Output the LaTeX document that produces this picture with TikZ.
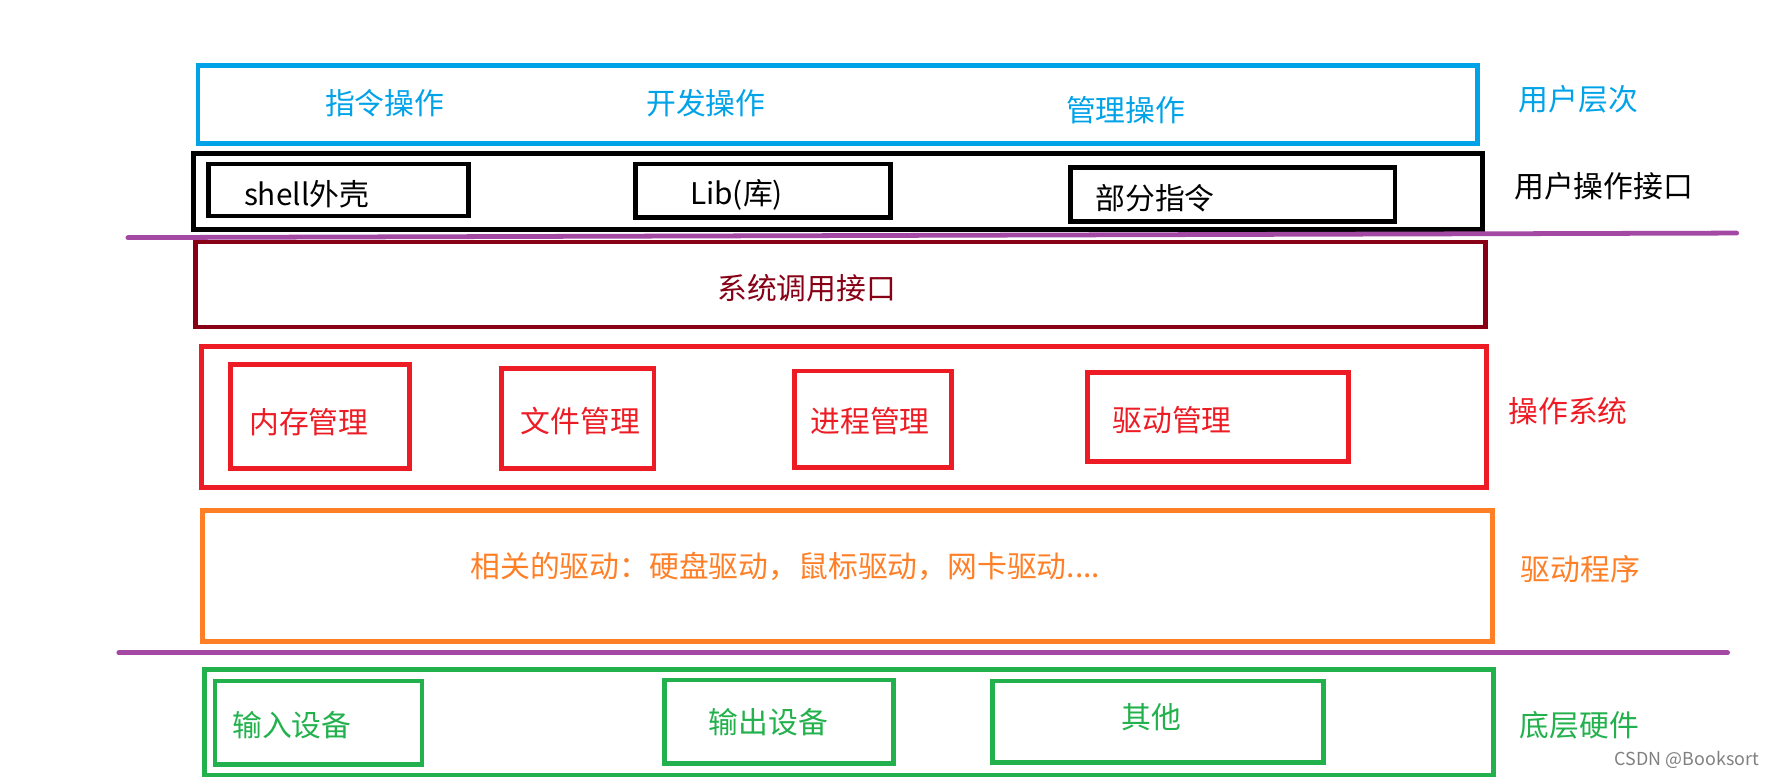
\documentclass[tikz,border=0pt]{standalone}
\usepackage{fontspec}
\setmainfont{Noto Sans CJK SC}
\usetikzlibrary{positioning}
\definecolor{userblue}{HTML}{00A2E8}
\definecolor{sysred}{HTML}{880015}
\definecolor{osred}{HTML}{ED1C24}
\definecolor{drvorange}{HTML}{FF7F27}
\definecolor{hwgreen}{HTML}{22B14C}
\definecolor{seppurple}{HTML}{A349A4}

\begin{document}
\begin{tikzpicture}[x=0.02cm, y=-0.02cm,
    box/.style={draw=#1, line width=2.4pt},
    lbl/.style={inner sep=0pt, font=\fontsize{15}{18}\selectfont},
    side/.style={lbl, anchor=west}]

\useasboundingbox (0,0) rectangle (1568,689);

% User layer
\draw[box=userblue] (175,58) rectangle (1306,127);
\node[lbl, userblue] (cmdop) at (340,91) {指令操作};
\node[lbl, userblue] (devop) at (624,91) {开发操作};
\node[lbl, userblue] (mgmtop) at (995,97) {管理操作};
\node[side, userblue] (userlev) at (1342,88) {用户层次};

% User operation interface
\draw[box=black] (171,136) rectangle (1310,203);
\draw[box=black] (184,145) rectangle (414,191);
\draw[box=black] (562,145) rectangle (787,192);
\draw[box=black] (946,148) rectangle (1233,196);
\node[lbl] (shell) at (271,172) {shell外壳};
\node[lbl] (lib) at (651,172) {Lib(库)};
\node[lbl] (partcmd) at (1021,175) {部分指令};
\node[side] (userif) at (1338,165) {用户操作接口};

\draw[seppurple, line width=2.4pt, line cap=round] (113,210) -- (1535,206);

% System call interface
\draw[box=sysred] (173,214) rectangle (1313,289);
\node[lbl, sysred] (syscall) at (713,255) {系统调用接口};

% Operating system
\draw[box=osred] (178,306) rectangle (1314,431);
\draw[box=osred] (204,322) rectangle (362,414);
\draw[box=osred] (443,326) rectangle (578,414);
\draw[box=osred] (702,328) rectangle (841,413);
\draw[box=osred] (961,329) rectangle (1192,408);
\node[lbl, osred] (mem) at (273,373) {内存管理};
\node[lbl, osred] (file) at (513,372) {文件管理};
\node[lbl, osred] (proc) at (769,372) {进程管理};
\node[lbl, osred] (drvmgmt) at (1036,371) {驱动管理};
\node[side, osred] (oslbl) at (1333,363) {操作系统};

% Drivers
\draw[box=drvorange] (179,451) rectangle (1319,567);
\node[lbl, drvorange] (drivers) at (694,501) {相关的驱动：硬盘驱动，鼠标驱动，网卡驱动....};
\node[side, drvorange] (drvlbl) at (1344,503) {驱动程序};

\draw[seppurple, line width=2.4pt, line cap=round] (105,577) -- (1527,577);

% Hardware
\draw[box=hwgreen] (181,592) rectangle (1320,685);
\draw[box=hwgreen] (190,602) rectangle (373,676);
\draw[box=hwgreen] (587,601) rectangle (790,675);
\draw[box=hwgreen] (877,602) rectangle (1170,674);
\node[lbl, hwgreen] (input) at (258,641) {输入设备};
\node[lbl, hwgreen] (output) at (679,638) {输出设备};
\node[lbl, hwgreen] (other) at (1018,634) {其他};
\node[side, hwgreen] (hwlbl) at (1343,641) {底层硬件};

\node[inner sep=0pt, anchor=east, gray, font=\fontsize{9}{11}\selectfont] (mark) at (1555,672) {CSDN @Booksort};

\end{tikzpicture}
\end{document}
